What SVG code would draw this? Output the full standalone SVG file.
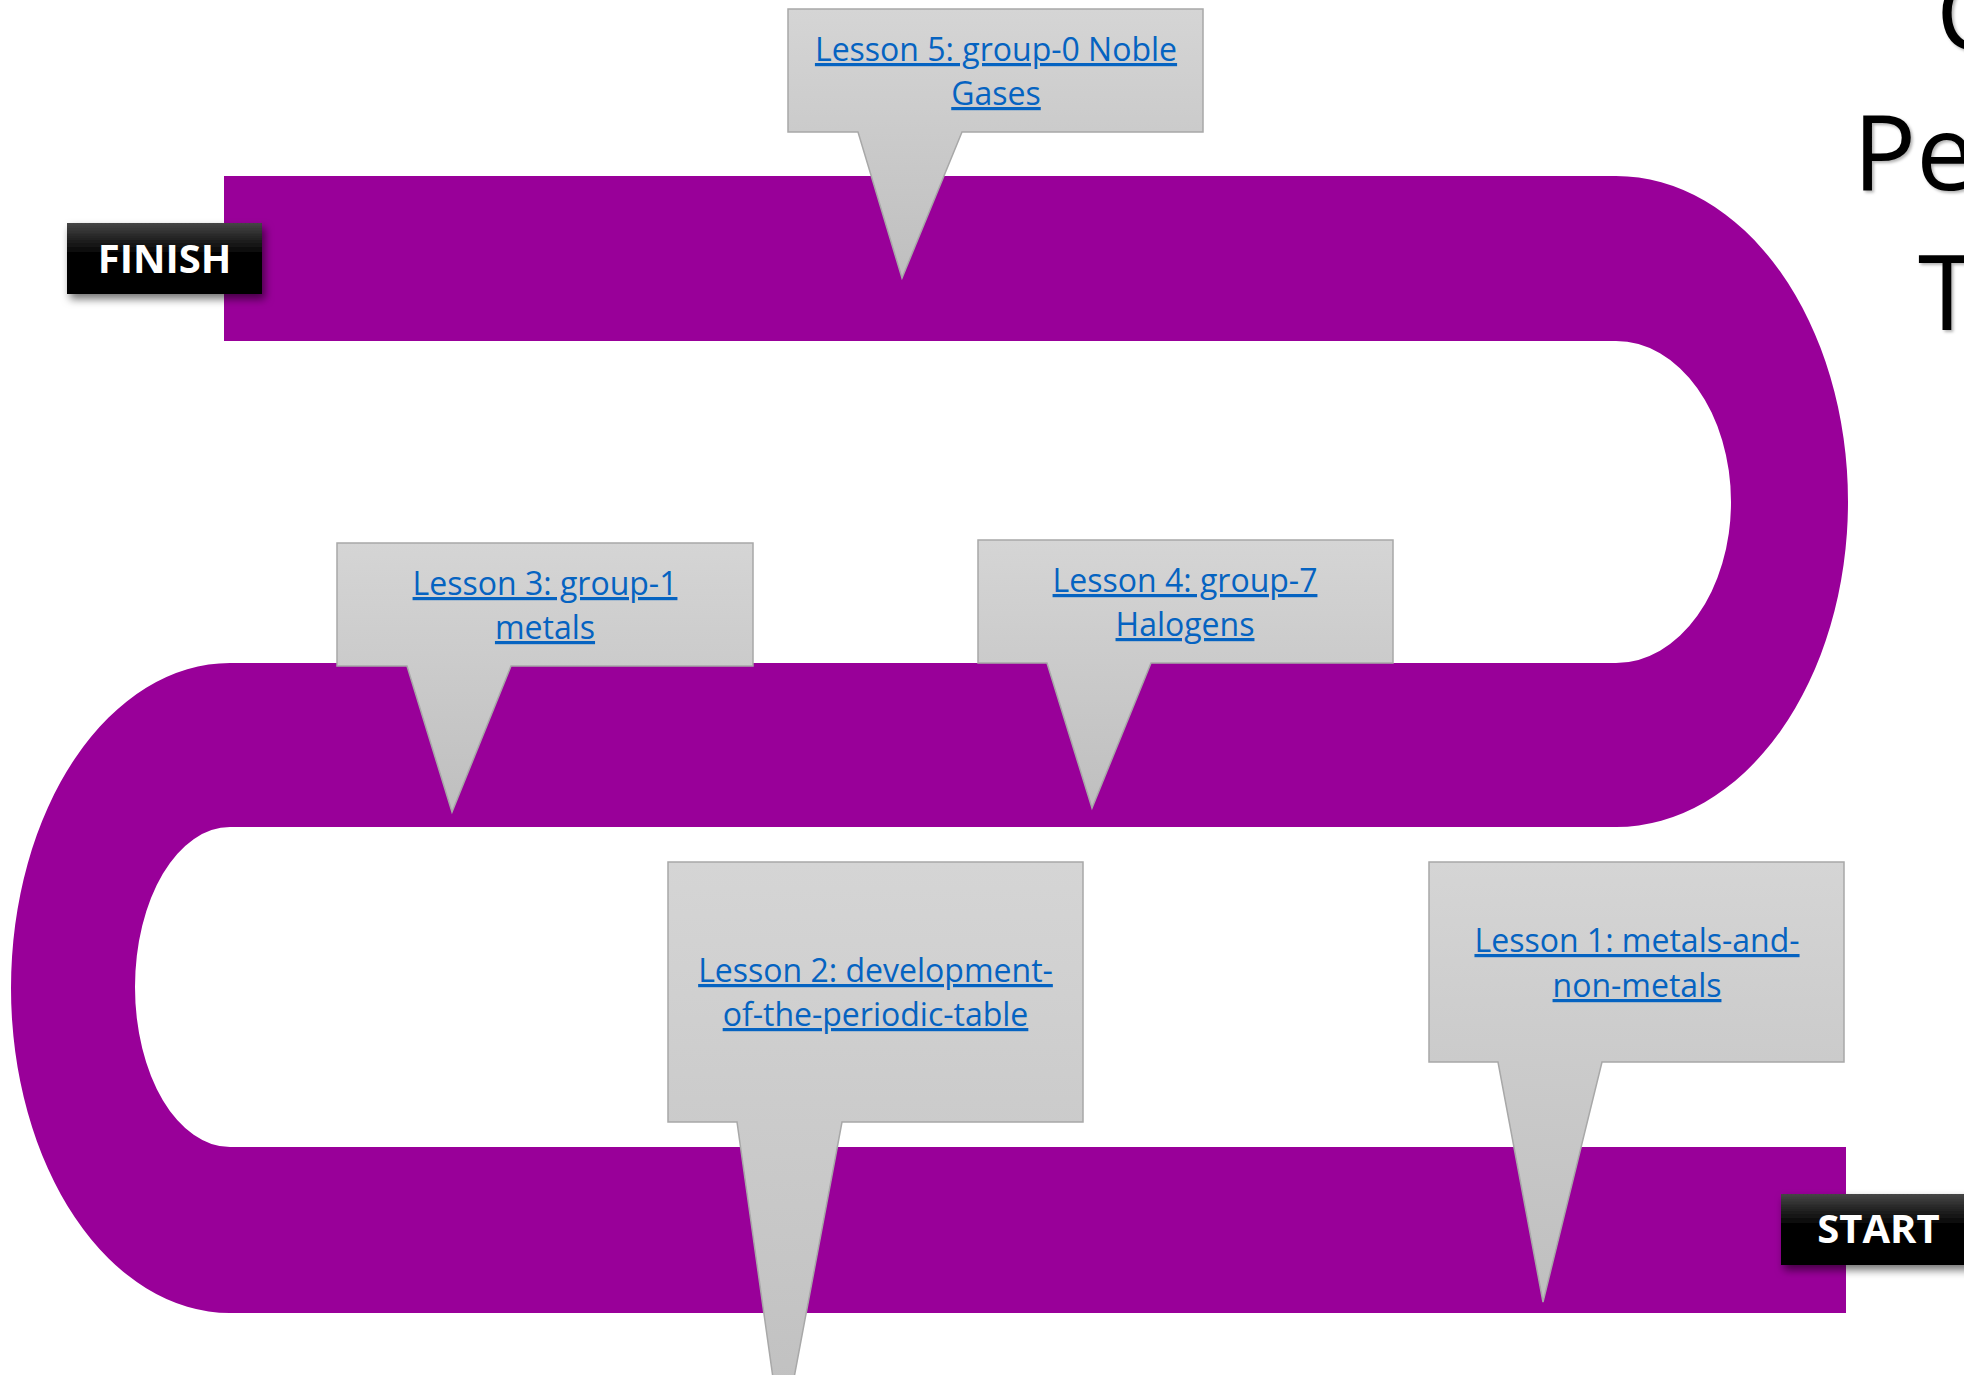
<svg xmlns="http://www.w3.org/2000/svg" width="1964" height="1375" viewBox="0 0 1964 1375">
  <style>
    .band { fill: #990099; }
    .callout { fill: url(#calloutGrad); stroke: #a8a8a8; stroke-width: 1.5; }
    .link { font-family: "Open Sans", "Liberation Sans", sans-serif; font-size: 32px; fill: #0563C1; text-anchor: middle; text-decoration: underline; }
    .tag { fill: url(#tagGrad); filter: url(#shadow); }
    .tagText { font-family: "Open Sans", "Liberation Sans", sans-serif; font-weight: bold; font-size: 40px; fill: #ffffff; text-anchor: middle; }
    .title { font-family: "Open Sans", "Liberation Sans", sans-serif; font-size: 105px; fill: #000000; filter: url(#textShadow); }
  </style>
  <defs>
    <linearGradient id="calloutGrad" x1="0" y1="0" x2="0" y2="1">
      <stop offset="0" stop-color="#d5d5d5"/>
      <stop offset="1" stop-color="#bfbfbf"/>
    </linearGradient>
    <linearGradient id="tagGrad" x1="0" y1="0" x2="0" y2="1">
      <stop offset="0" stop-color="#454545"/>
      <stop offset="0.45" stop-color="#000000"/>
      <stop offset="1" stop-color="#000000"/>
    </linearGradient>
    <filter id="shadow" x="-20%" y="-30%" width="140%" height="170%">
      <feDropShadow dx="3" dy="5" stdDeviation="4" flood-color="#000000" flood-opacity="0.55"/>
    </filter>
    <filter id="textShadow" x="-10%" y="-10%" width="130%" height="130%">
      <feDropShadow dx="2" dy="2" stdDeviation="1.5" flood-color="#000000" flood-opacity="0.3"/>
    </filter>
  </defs>

  <g id="title">
    <text class="title" x="1936" y="50">C</text>
    <text class="title" x="1853" y="190">Pe</text>
    <text class="title" x="1918" y="330">T</text>
  </g>

  <g id="path-track">
    <rect class="band" x="224" y="176" width="1393" height="165"/>
    <path class="band" d="M1616,176 A232,325.5 0 0 1 1616,827 L1616,663 A115,161 0 0 0 1616,341 Z"/>
    <rect class="band" x="229" y="663" width="1388" height="164"/>
    <path class="band" d="M230,663 A219,325 0 0 0 230,1313 L230,1147 A95,160 0 0 1 230,827 Z"/>
    <rect class="band" x="229" y="1147" width="1617" height="166"/>
  </g>

  <g id="lesson5">
    <path class="callout" d="M788,9 H1203 V132 H962 L902,278 L858,132 H788 Z"/>
    <text class="link" x="996" y="61">Lesson 5: group-0 Noble</text>
    <text class="link" x="996" y="105">Gases</text>
  </g>
  <g id="lesson3">
    <path class="callout" d="M337,543 H753 V666 H511 L452,812 L407,666 H337 Z"/>
    <text class="link" x="545" y="595">Lesson 3: group-1</text>
    <text class="link" x="545" y="639">metals</text>
  </g>
  <g id="lesson4">
    <path class="callout" d="M978,540 H1393 V663 H1151 L1092,808 L1047,663 H978 Z"/>
    <text class="link" x="1185" y="592">Lesson 4: group-7</text>
    <text class="link" x="1185" y="636">Halogens</text>
  </g>
  <g id="lesson2">
    <path class="callout" d="M668,862 H1083 V1122 H842 L782,1442 L737,1122 H668 Z"/>
    <text class="link" x="875.5" y="982">Lesson 2: development-</text>
    <text class="link" x="875.5" y="1026">of-the-periodic-table</text>
  </g>
  <g id="lesson1">
    <path class="callout" d="M1429,862 H1844 V1062 H1602 L1543,1302 L1498,1062 H1429 Z"/>
    <text class="link" x="1637" y="952">Lesson 1: metals-and-</text>
    <text class="link" x="1637" y="997">non-metals</text>
  </g>

  <g id="finish">
    <rect class="tag" x="67" y="223" width="195" height="71"/>
    <text class="tagText" x="164.5" y="273">FINISH</text>
  </g>
  <g id="start">
    <rect class="tag" x="1781" y="1194" width="195" height="71"/>
    <text class="tagText" x="1878.5" y="1243">START</text>
  </g>

  <g id="connectors"></g>
</svg>
